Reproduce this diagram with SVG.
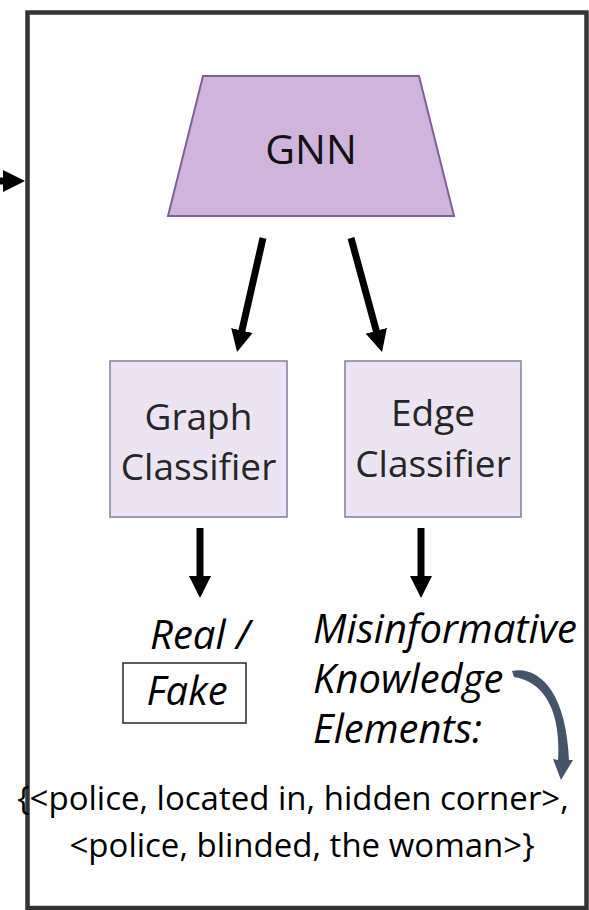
<svg xmlns="http://www.w3.org/2000/svg" width="589" height="910" viewBox="0 0 589 910">
<style>
.t{font-family:"Open Sans","Noto Sans","DejaVu Sans",sans-serif;}
.box{fill:#ece4f2;stroke:#8a84a6;stroke-width:1.6;}
.lbl{font-size:37px;fill:#262626;text-anchor:middle;}
.it{font-size:40px;font-style:italic;fill:#000;}
.arr{stroke:#000;stroke-width:7;fill:none;}
</style>
<defs>
<marker id="ah" viewBox="0 0 22 22" refX="10" refY="11" markerWidth="22" markerHeight="22" markerUnits="userSpaceOnUse" orient="auto">
<path d="M0,0 L22,11 L0,22 Z" fill="#000"/>
</marker>
</defs>
<rect x="27.5" y="12.5" width="559" height="895.5" fill="#fff" stroke="#333" stroke-width="4.5"/>
<g id="gnn">
<polygon points="203,76 419,76 454,216 168,216" fill="#cfb5dc" stroke="#7f5f9a" stroke-width="2"/>
<text class="t" x="311" y="164" font-size="41" text-anchor="middle" fill="#111">GNN</text>
</g>
<g id="graph-classifier">
<rect class="box" x="110" y="361" width="177" height="156"/>
<text class="t lbl" x="198.5" y="430">Graph</text>
<text class="t lbl" x="198.5" y="480">Classifier</text>
</g>
<g id="edge-classifier">
<rect class="box" x="345" y="361" width="176" height="156"/>
<text class="t lbl" x="433" y="426">Edge</text>
<text class="t lbl" x="433" y="477">Classifier</text>
</g>
<g id="real-fake">
<text class="t it" x="200" y="649" text-anchor="middle" font-size="42">Real /</text>
<rect x="123" y="663" width="123" height="60" fill="none" stroke="#333" stroke-width="1.6"/>
<text class="t it" x="187" y="705" text-anchor="middle">Fake</text>
</g>
<g id="misinfo">
<text class="t it" x="313" y="643">Misinformative</text>
<text class="t it" x="313" y="693">Knowledge</text>
<text class="t it" x="313" y="743">Elements:</text>
</g>
<g id="triples">
<text class="t" x="293" y="810" font-size="33" text-anchor="middle" fill="#000">{&lt;police, located in, hidden corner&gt;,</text>
<text class="t" x="302" y="857" font-size="33" text-anchor="middle" fill="#000">&lt;police, blinded, the woman&gt;}</text>
</g>
<g id="connectors">
<line class="arr" x1="0" y1="181" x2="13" y2="181" marker-end="url(#ah)"/>
<line class="arr" x1="263" y1="238" x2="239.7" y2="340.3" marker-end="url(#ah)"/>
<line class="arr" x1="351" y1="238" x2="378.9" y2="340.4" marker-end="url(#ah)"/>
<line class="arr" x1="200" y1="528" x2="200" y2="586" marker-end="url(#ah)"/>
<line class="arr" x1="421" y1="528" x2="421" y2="586" marker-end="url(#ah)"/>
<path d="M512,671 C538,666 566,690 569,760 L573,760 L561,780 L553,759 L558,760 C561,712 545,682 514,677 Z" fill="#44546a"/>
</g>
</svg>
